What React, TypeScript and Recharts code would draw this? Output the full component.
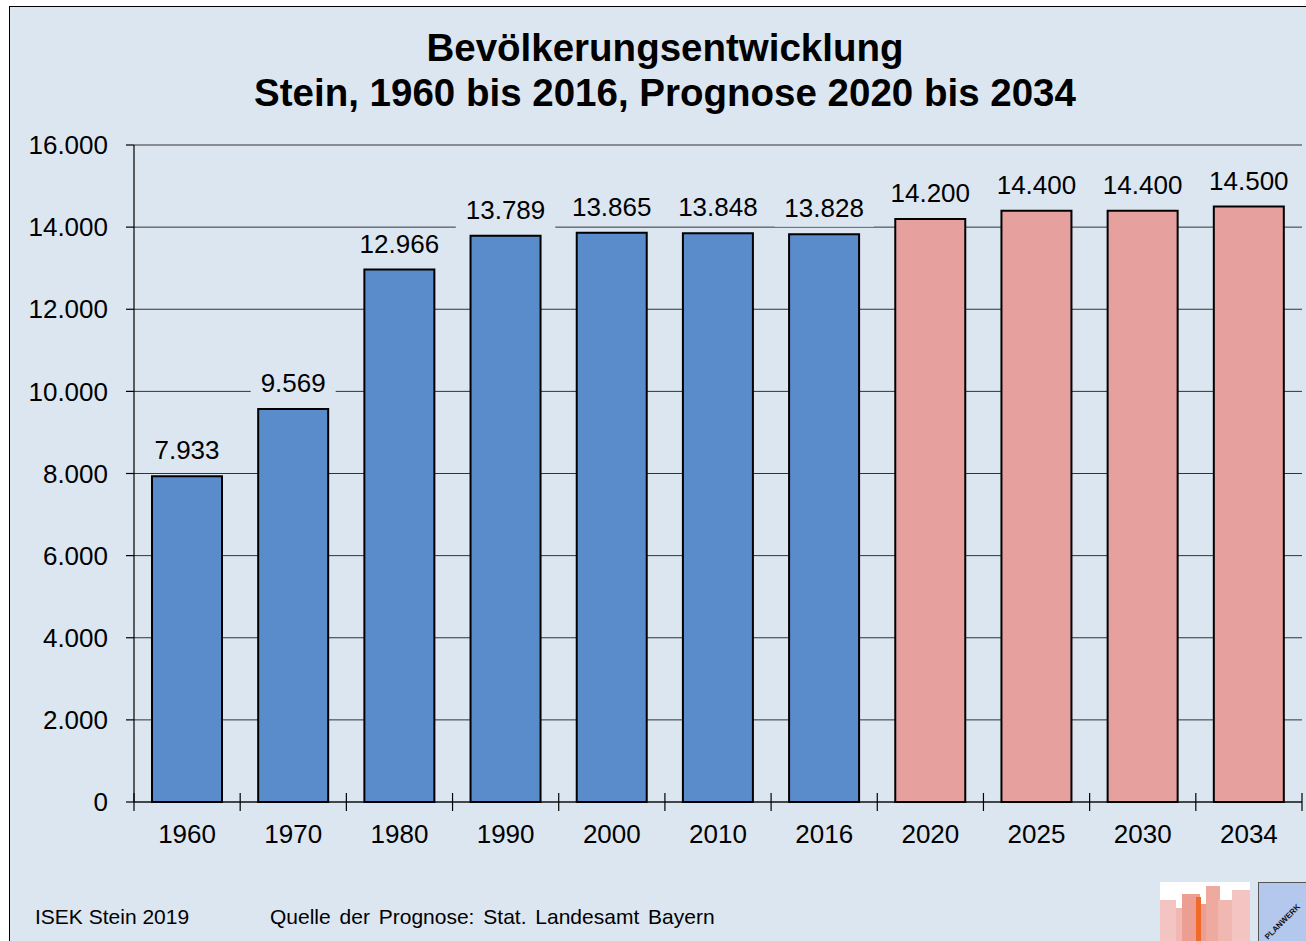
import { Bar, BarChart, CartesianGrid, Cell, LabelList, XAxis, YAxis } from 'recharts';

const years = ['1960', '1970', '1980', '1990', '2000', '2010', '2016', '2020', '2025', '2030', '2034'];
const population = [7933, 9569, 12966, 13789, 13865, 13848, 13828, 14200, 14400, 14400, 14500];
const forecastFrom = 2020;
const yTicks = [0, 2000, 4000, 6000, 8000, 10000, 12000, 14000, 16000];

const data = years.map((year, i) => ({ year, value: population[i] }));

const BG = '#dce6f1';
const BLUE = '#5a8bcb';
const PINK = '#e6a09e';
const FONT = '"Liberation Sans", Arial, sans-serif';

const PLOT_LEFT = 134;
const PLOT_RIGHT = 1302;
const PLOT_BOTTOM = 802;
const HALF_BAND = (PLOT_RIGHT - PLOT_LEFT) / years.length / 2;

const fmt = (n: number) =>
    n >= 1000 ? `${Math.floor(n / 1000)}.${String(n % 1000).padStart(3, '0')}` : String(n);

const YearTick = (props: any) => {
    const { x, payload, index } = props;
    const y = PLOT_BOTTOM;
    return (
        <g>
            <line x1={x - HALF_BAND} x2={x - HALF_BAND} y1={y - 9} y2={y + 9} stroke="#000" strokeWidth={1.2} />
            {index === years.length - 1 && (
                <line x1={x + HALF_BAND} x2={x + HALF_BAND} y1={y - 9} y2={y + 9} stroke="#000" strokeWidth={1.2} />
            )}
            <text x={x} y={y + 41} textAnchor="middle" fontSize={26} fontFamily={FONT} fill="#000">
                {payload.value}
            </text>
        </g>
    );
};

const ValueLabel = (props: any) => {
    const { x, y, width, value } = props;
    const cx = x + width / 2;
    const text = fmt(value);
    const w = text.replace('.', '').length * 14.5 + 7 + 20;
    return (
        <g>
            <rect x={cx - w / 2} y={y - 40} width={w} height={32.5} fill={BG} />
            <text x={cx} y={y - 17} textAnchor="middle" fontSize={26} fontFamily={FONT} fill="#000">
                {text}
            </text>
        </g>
    );
};

const Logos = () => (
    <>
        <svg width={90} height={60} style={{ position: 'absolute', left: 1160, top: 882 }}>
            <rect x={0} y={0} width={90} height={60} fill="#fff" />
            <rect x={0} y={18} width={16} height={42} fill="#f3c4c1" />
            <rect x={16} y={26} width={14} height={34} fill="#f1b8b2" />
            <rect x={22} y={12} width={18} height={48} fill="#ec9e92" />
            <rect x={36} y={15} width={5} height={45} fill="#f26a2a" />
            <rect x={41} y={22} width={12} height={38} fill="#ec9e92" />
            <rect x={46} y={4} width={14} height={56} fill="#eeaa9f" />
            <rect x={58} y={18} width={14} height={42} fill="#f1b8b2" />
            <rect x={72} y={8} width={18} height={52} fill="#f3c4c1" />
        </svg>
        <div
            style={{
                position: 'absolute',
                left: 1258,
                top: 882,
                width: 60,
                height: 70,
                background: '#b4c7ec',
                border: '1px solid #555',
                overflow: 'hidden',
            }}
        >
            <div
                style={{
                    position: 'absolute',
                    left: 4,
                    top: 52,
                    fontFamily: FONT,
                    fontWeight: 'bold',
                    fontSize: 8,
                    transform: 'rotate(-45deg)',
                    transformOrigin: 'left top',
                    color: '#111',
                }}
            >
                PLANWERK
            </div>
        </div>
    </>
);

export default function App() {
    return (
        <div
            style={{
                position: 'absolute',
                left: 0,
                top: 0,
                width: 1306,
                height: 941,
                background: '#fff',
                overflow: 'hidden',
                fontFamily: FONT,
            }}
        >
            <div
                style={{
                    position: 'absolute',
                    left: 9,
                    top: 6,
                    width: 1320,
                    height: 960,
                    background: BG,
                    border: '1px solid #000',
                }}
            />
            <div
                style={{
                    position: 'absolute',
                    left: 0,
                    top: 25,
                    width: 1330,
                    textAlign: 'center',
                    fontWeight: 'bold',
                    fontSize: 38.5,
                    lineHeight: '45px',
                    color: '#000',
                }}
            >
                <div>Bevölkerungsentwicklung</div>
                <div>Stein, 1960 bis 2016, Prognose 2020 bis 2034</div>
            </div>
            <div style={{ position: 'absolute', left: 0, top: 0 }}>
                <BarChart
                    width={1306}
                    height={880}
                    data={data}
                    margin={{ top: 145, right: 1306 - PLOT_RIGHT, bottom: 18, left: 0 }}
                    barCategoryGap={0}
                >
                    <CartesianGrid vertical={false} stroke="#333" strokeWidth={1} />
                    <XAxis
                        dataKey="year"
                        height={60}
                        tickLine={false}
                        tickSize={0}
                        tickMargin={0}
                        axisLine={{ stroke: '#000', strokeWidth: 1.2 }}
                        tick={<YearTick />}
                        interval={0}
                    />
                    <YAxis
                        width={PLOT_LEFT}
                        domain={[0, 16000]}
                        ticks={yTicks}
                        tickFormatter={fmt}
                        tickSize={8}
                        tickMargin={18}
                        axisLine={{ stroke: '#000', strokeWidth: 1.2 }}
                        tickLine={{ stroke: '#000', strokeWidth: 1.2 }}
                        tick={{ fill: '#000', fontSize: 26, fontFamily: FONT }}
                    />
                    <Bar dataKey="value" barSize={70} stroke="#000" strokeWidth={2} isAnimationActive={false}>
                        {data.map((d) => (
                            <Cell key={d.year} fill={Number(d.year) >= forecastFrom ? PINK : BLUE} />
                        ))}
                        <LabelList dataKey="value" content={<ValueLabel />} />
                    </Bar>
                </BarChart>
            </div>
            <div style={{ position: 'absolute', left: 35, top: 905, fontSize: 21, color: '#000' }}>
                ISEK Stein 2019
            </div>
            <div style={{ position: 'absolute', left: 270, top: 905, fontSize: 21, color: '#000', wordSpacing: 3 }}>
                Quelle der Prognose: Stat. Landesamt Bayern
            </div>
            <Logos />
        </div>
    );
}
